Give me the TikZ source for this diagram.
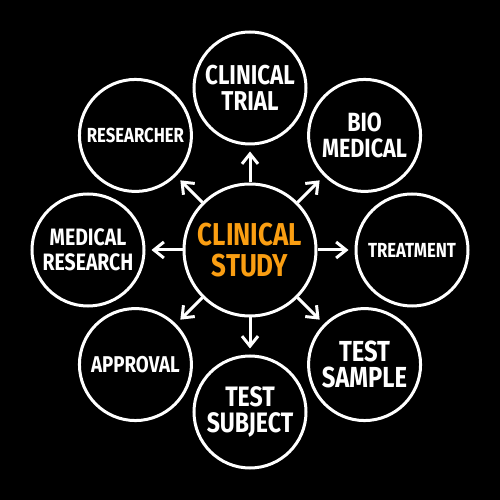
\documentclass[tikz,border=0pt]{standalone}
\usepackage{fontspec}
\setmainfont{Fira Sans}[FakeStretch=0.82]
\usetikzlibrary{arrows.meta}

\definecolor{studyorange}{RGB}{250,158,18}

\tikzset{
  topic/.style={circle, draw=white, line width=0.06cm, minimum size=2.24cm,
    inner sep=0pt, text=white, align=center,
    font=\bfseries\fontsize{15.5}{15}\selectfont},
  topic small/.style={topic, font=\bfseries\fontsize{11.6}{13}\selectfont},
  hub/.style={circle, draw=white, line width=0.06cm, minimum size=2.64cm,
    inner sep=0pt, text=studyorange, align=center,
    font=\bfseries\fontsize{18}{18}\selectfont},
  spoke/.style={white, line width=0.06cm,
    -{Straight Barb[length=0.2cm, width=0.32cm, line width=0.06cm]}}
}

\begin{document}
\begin{tikzpicture}

  \fill[black] (-5,-5) rectangle (5,5);
  \useasboundingbox (-5,-5) rectangle (5,5);

  \node[hub] (study) at (0,0) {CLINICAL\\STUDY};

  % ring of topics, 3.24cm out from the hub
  \node[topic] (trial) at (90:3.24) {CLINICAL\\TRIAL};
  \node[topic, font=\bfseries\fontsize{15}{15}\selectfont] (bio) at (45:3.24) {BIO\\MEDICAL};
  \node[topic small] (treatment) at (0:3.24) {TREATMENT};
  \node[topic, font=\bfseries\fontsize{16.5}{15}\selectfont] (sample) at (-45:3.24) {TEST\\SAMPLE};
  \node[topic, font=\bfseries\fontsize{16}{15}\selectfont] (subject) at (-90:3.24) {TEST\\SUBJECT};
  \node[topic small, font=\bfseries\fontsize{13}{13}\selectfont] (approval) at (-135:3.24) {APPROVAL};
  \node[topic small, font=\bfseries\fontsize{13.5}{14}\selectfont] (research) at (180:3.24) {MEDICAL\\RESEARCH};
  \node[topic small] (researcher) at (135:3.24) {RESEARCHER};

  \foreach \a in {0,45,...,315}{
    \coordinate (tip\a) at (\a:1.97);
    \draw[spoke] (study.\a) -- (tip\a);
  }

\end{tikzpicture}
\end{document}
